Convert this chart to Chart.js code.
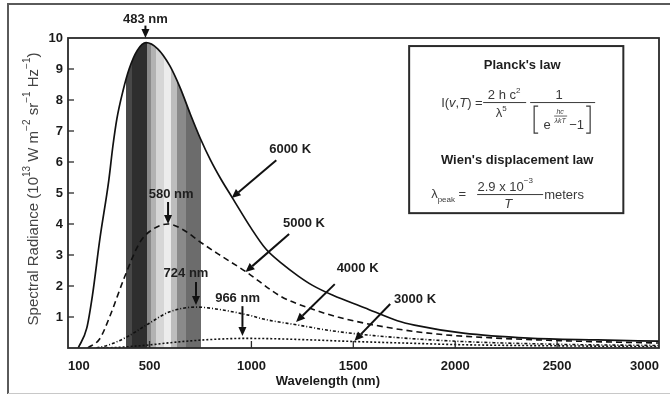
<!DOCTYPE html>
<html><head><meta charset="utf-8">
<script src="https://cdn.jsdelivr.net/npm/chart.js@4.4.1/dist/chart.umd.min.js"></script>
<style>html,body{margin:0;padding:0;background:#fff}#wrap{width:670px;height:395px;position:relative}</style>
</head><body><div id="wrap"><canvas id="c" width="670" height="395"></canvas></div>
<script>
// ---- data ----
const xTickValues = [100, 500, 1000, 1500, 2000, 2500, 3000];
const yTickValues = [1, 2, 3, 4, 5, 6, 7, 8, 9, 10];

const wl6000 = [150, 192, 220, 256, 300, 320, 340, 370, 400, 440, 483, 540, 600, 650, 700, 750, 800, 850, 905, 1000, 1070, 1150, 1230, 1300, 1400, 1555, 1716, 1800, 2040, 2360, 2700, 3000];
const rad6000 = [0, 0.64, 1.7, 3.5, 5.4, 6.5, 7.4, 8.3, 9.0, 9.6, 9.85, 9.65, 9.1, 8.4, 7.55, 6.75, 6.05, 5.45, 4.86, 3.85, 3.2, 2.72, 2.32, 2.02, 1.7, 1.3, 0.88, 0.74, 0.48, 0.32, 0.26, 0.22];

const wl5000 = [197, 256, 304, 377, 450, 499, 591, 669, 742, 840, 971, 1146, 1278, 1424, 1652, 1910, 2200, 2600, 3000];
const rad5000 = [0, 0.3, 1.0, 2.28, 3.38, 3.75, 4.0, 3.8, 3.45, 3.02, 2.47, 1.66, 1.3, 1.0, 0.68, 0.45, 0.32, 0.22, 0.16];

const wl4000 = [240, 300, 387, 499, 596, 728, 825, 986, 1068, 1229, 1390, 1600, 2000, 2500, 3000];
const rad4000 = [0, 0.1, 0.35, 0.8, 1.16, 1.32, 1.26, 1.06, 0.92, 0.74, 0.56, 0.4, 0.22, 0.12, 0.08];

const wl3000 = [270, 350, 430, 500, 600, 700, 850, 966, 1100, 1300, 1500, 1800, 2000, 2500, 3000];
const rad3000 = [0, 0.02, 0.06, 0.1, 0.17, 0.23, 0.29, 0.31, 0.3, 0.26, 0.21, 0.15, 0.11, 0.07, 0.045];

// visible spectrum band (stripe edges in nm) and its grey shades
const bandEdges = [387, 416, 489, 509, 533, 572, 606, 635, 679, 752];
const bandGrays = ['#484848', '#2e2e2e', '#8a8a8a', '#b2b2b2', '#d6d6d6', '#ececec', '#bdbdbd', '#8a8a8a', '#6c6c6c'];

// annotations: label text, label position (nm, radiance), arrow from -> to
const notes = [
  {t: '483 nm', at: [480, 10.61], from: [480, 10.40], to: [480, 10.0]},
  {t: '6000 K', at: [1190, 6.39], from: [1122, 6.06], to: [903, 4.84]},
  {t: '5000 K', at: [1258, 4.03], from: [1185, 3.68], to: [971, 2.45]},
  {t: '4000 K', at: [1521, 2.58], from: [1409, 2.06], to: [1219, 0.84]},
  {t: '3000 K', at: [1803, 1.58], from: [1681, 1.42], to: [1506, 0.23]},
  {t: '580 nm', at: [606, 4.97], from: [591, 4.71], to: [591, 4.0]},
  {t: '724 nm', at: [679, 2.39], from: [728, 2.13], to: [728, 1.39]},
  {t: '966 nm', at: [932, 1.61], from: [956, 1.35], to: [956, 0.39]}
];

const FF = '"Liberation Sans", Arial, Helvetica, sans-serif';

function pts(xs, ys) { return xs.map((x, i) => ({x: x, y: ys[i]})); }

function spectrumFill(c) {
  const ch = c.chart, a = ch.chartArea, xs = ch.scales.x;
  if (!a || !xs) return 'rgba(255,255,255,0)';
  const g = ch.ctx.createLinearGradient(a.left, 0, a.right, 0);
  const w = a.right - a.left;
  const p = nm => Math.min(1, Math.max(0, (xs.getPixelForValue(nm) - a.left) / w));
  const clear = 'rgba(255,255,255,0)';
  g.addColorStop(0, clear);
  g.addColorStop(p(bandEdges[0]), clear);
  for (let i = 0; i < bandGrays.length; i++) {
    g.addColorStop(p(bandEdges[i]), bandGrays[i]);
    g.addColorStop(p(bandEdges[i + 1]), bandGrays[i]);
  }
  g.addColorStop(p(bandEdges[bandEdges.length - 1]), clear);
  g.addColorStop(1, clear);
  return g;
}

function segs(ctx, x, y, list, align) {
  let w = 0;
  list.forEach(s => { ctx.font = s.f; s.w = ctx.measureText(s.t).width; w += s.w; });
  let cx = align === 'center' ? x - w / 2 : (align === 'right' ? x - w : x);
  ctx.textAlign = 'left'; ctx.textBaseline = 'alphabetic';
  list.forEach(s => { ctx.font = s.f; ctx.fillStyle = s.c || '#3a3a3a'; ctx.fillText(s.t, cx, y + (s.dy || 0)); cx += s.w; });
  return w;
}

function arrow(ctx, x1, y1, x2, y2) {
  const ang = Math.atan2(y2 - y1, x2 - x1), L = 9, H = 4;
  const bx = x2 - L * Math.cos(ang), by = y2 - L * Math.sin(ang);
  ctx.strokeStyle = '#111'; ctx.fillStyle = '#111'; ctx.lineWidth = 2;
  ctx.beginPath(); ctx.moveTo(x1, y1); ctx.lineTo(bx, by); ctx.stroke();
  ctx.beginPath();
  ctx.moveTo(x2, y2);
  ctx.lineTo(bx + H * Math.sin(ang), by - H * Math.cos(ang));
  ctx.lineTo(bx - H * Math.sin(ang), by + H * Math.cos(ang));
  ctx.closePath(); ctx.fill();
}

const decor = {
  id: 'decor',
  beforeDraw(chart) {
    const ctx = chart.ctx;
    ctx.save();
    ctx.fillStyle = '#fff'; ctx.fillRect(0, 0, 670, 395);
    ctx.strokeStyle = '#5a5a5a'; ctx.lineWidth = 2;
    ctx.beginPath(); ctx.moveTo(7, 4); ctx.lineTo(670, 4); ctx.stroke();
    ctx.beginPath(); ctx.moveTo(8, 3); ctx.lineTo(8, 394); ctx.stroke();
    ctx.strokeStyle = '#c8c8c8'; ctx.lineWidth = 1;
    ctx.beginPath(); ctx.moveTo(8, 393.5); ctx.lineTo(670, 393.5); ctx.stroke();
    ctx.restore();
  },
  afterDraw(chart) {
    const ctx = chart.ctx, a = chart.chartArea, xs = chart.scales.x, ys = chart.scales.y;
    const X = v => xs.getPixelForValue(v), Y = v => ys.getPixelForValue(v);
    ctx.save();
    // plot frame
    ctx.strokeStyle = '#2a2a2a'; ctx.lineWidth = 1.8;
    ctx.strokeRect(a.left, a.top, a.right - a.left, a.bottom - a.top);
    // inward ticks
    ctx.lineWidth = 1.3;
    yTickValues.forEach(v => { if (v < 10) { const y = Y(v); ctx.beginPath(); ctx.moveTo(a.left, y); ctx.lineTo(a.left + 6, y); ctx.stroke(); } });
    xTickValues.forEach(v => { if (v > 100 && v < 3000) { const x = X(v); ctx.beginPath(); ctx.moveTo(x, a.bottom); ctx.lineTo(x, a.bottom - 7); ctx.stroke(); } });

    // axis titles
    ctx.fillStyle = '#1a1a1a'; ctx.font = 'bold 13px ' + FF; ctx.textAlign = 'center'; ctx.textBaseline = 'middle';
    ctx.fillText('Wavelength (nm)', X(1375), 381);
    ctx.save();
    ctx.translate(33, 189);
    ctx.rotate(-Math.PI / 2);
    const n14 = '15px ' + FF, s9 = '10px ' + FF, col = '#444';
    segs(ctx, 0, 5, [
      {t: 'Spectral Radiance (10', f: n14, c: col},
      {t: '13', f: s9, dy: -8, c: col},
      {t: ' W m', f: n14, c: col},
      {t: '\u22122', f: s9, dy: -8, c: col},
      {t: ' sr', f: n14, c: col},
      {t: '\u22121', f: s9, dy: -8, c: col},
      {t: ' Hz', f: n14, c: col},
      {t: '\u22121', f: s9, dy: -8, c: col},
      {t: ')', f: n14, c: col}
    ], 'center');
    ctx.restore();

    // annotations
    notes.forEach(n => {
      ctx.font = 'bold 13px ' + FF; ctx.fillStyle = '#1e1e1e'; ctx.textAlign = 'center'; ctx.textBaseline = 'middle';
      ctx.fillText(n.t, X(n.at[0]), Y(n.at[1]));
      arrow(ctx, X(n.from[0]), Y(n.from[1]), X(n.to[0]), Y(n.to[1]));
    });

    // formula box
    const L = X(1774), T = Y(9.74), R = X(2825), B = Y(4.35);
    ctx.fillStyle = '#fff'; ctx.fillRect(L, T, R - L, B - T);
    ctx.strokeStyle = '#2a2a2a'; ctx.lineWidth = 2; ctx.strokeRect(L, T, R - L, B - T);
    const b13 = 'bold 13px ' + FF, n13 = '13px ' + FF,
          i13 = 'italic 13px ' + FF, s8 = '8px ' + FF, i7 = 'italic 7px ' + FF;
    segs(ctx, L + 113, T + 23, [{t: "Planck's law", f: b13, c: '#1e1e1e'}], 'center');
    segs(ctx, L + 32, T + 61, [
      {t: 'I(', f: n13}, {t: 'v', f: i13}, {t: ',', f: n13}, {t: 'T', f: i13}, {t: ') =', f: n13}
    ], 'left');
    segs(ctx, L + 95, T + 53, [{t: '2 h c', f: n13}, {t: '2', f: s8, dy: -6}], 'center');
    ctx.strokeStyle = '#3a3a3a'; ctx.lineWidth = 1;
    ctx.beginPath(); ctx.moveTo(L + 74, T + 56.5); ctx.lineTo(L + 117, T + 56.5); ctx.stroke();
    segs(ctx, L + 92, T + 71, [{t: '\u03bb', f: n13}, {t: '5', f: s8, dy: -6}], 'center');
    segs(ctx, L + 150, T + 53, [{t: '1', f: n13}], 'center');
    ctx.beginPath(); ctx.moveTo(L + 121, T + 56.5); ctx.lineTo(L + 186, T + 56.5); ctx.stroke();
    // brackets
    ctx.lineWidth = 1.2;
    ctx.beginPath(); ctx.moveTo(L + 129, T + 60); ctx.lineTo(L + 125, T + 60); ctx.lineTo(L + 125, T + 87); ctx.lineTo(L + 129, T + 87); ctx.stroke();
    ctx.beginPath(); ctx.moveTo(L + 177, T + 60); ctx.lineTo(L + 181, T + 60); ctx.lineTo(L + 181, T + 87); ctx.lineTo(L + 177, T + 87); ctx.stroke();
    segs(ctx, L + 138, T + 83, [{t: 'e', f: n13}], 'center');
    segs(ctx, L + 151, T + 68, [{t: 'hc', f: i7}], 'center');
    ctx.lineWidth = 0.8;
    ctx.beginPath(); ctx.moveTo(L + 145, T + 70); ctx.lineTo(L + 158, T + 70); ctx.stroke();
    segs(ctx, L + 151, T + 77, [{t: '\u03bbkT', f: i7}], 'center');
    segs(ctx, L + 160, T + 83, [{t: '\u22121', f: n13}], 'left');

    segs(ctx, L + 108, T + 118, [{t: "Wien's displacement law", f: b13, c: '#1e1e1e'}], 'center');
    segs(ctx, L + 22, T + 152, [{t: '\u03bb', f: n13}, {t: 'peak', f: s8, dy: 4}, {t: ' =', f: n13}], 'left');
    segs(ctx, L + 96, T + 145, [{t: '2.9 x 10', f: n13}, {t: '\u22123', f: s8, dy: -8}], 'center');
    ctx.lineWidth = 1;
    ctx.beginPath(); ctx.moveTo(L + 68, T + 148.5); ctx.lineTo(L + 134, T + 148.5); ctx.stroke();
    segs(ctx, L + 99, T + 162, [{t: 'T', f: i13}], 'center');
    segs(ctx, L + 135, T + 153, [{t: 'meters', f: n13}], 'left');
    ctx.restore();
  }
};

const tickFont = {family: FF, size: 13, weight: 'bold'};

new Chart(document.getElementById('c'), {
  type: 'line',
  data: {
    datasets: [
      {label: '6000 K', data: pts(wl6000, rad6000), borderColor: '#111', borderWidth: 1.7, fill: 'origin', backgroundColor: spectrumFill},
      {label: '5000 K', data: pts(wl5000, rad5000), borderColor: '#111', borderWidth: 1.6, borderDash: [6, 4], fill: false},
      {label: '4000 K', data: pts(wl4000, rad4000), borderColor: '#111', borderWidth: 1.6, borderDash: [3, 2, 1, 2], fill: false},
      {label: '3000 K', data: pts(wl3000, rad3000), borderColor: '#111', borderWidth: 1.6, borderDash: [2, 2], fill: false}
    ]
  },
  options: {
    responsive: false, animation: false, devicePixelRatio: 1,
    layout: {padding: {left: 0, right: 6, top: 38, bottom: 0}},
    elements: {point: {radius: 0}, line: {tension: 0.4, cubicInterpolationMode: 'monotone'}},
    plugins: {legend: {display: false}, tooltip: {enabled: false}, filler: {drawTime: 'beforeDatasetsDraw'}},
    scales: {
      x: {
        type: 'linear', min: 100, max: 3000,
        afterBuildTicks: s => { s.ticks = xTickValues.map(v => ({value: v})); },
        afterFit: s => { s.height = 47; },
        grid: {display: false, drawTicks: false}, border: {display: false},
        ticks: {padding: 11, align: 'inner', maxRotation: 0, autoSkip: false, font: tickFont, color: '#1a1a1a', callback: v => String(v)}
      },
      y: {
        type: 'linear', min: 0, max: 10,
        afterBuildTicks: s => { s.ticks = yTickValues.map(v => ({value: v})); },
        afterFit: s => { s.width = 68; },
        grid: {display: false, drawTicks: false}, border: {display: false},
        ticks: {padding: 5, font: tickFont, color: '#1a1a1a', callback: v => String(v)}
      }
    }
  },
  plugins: [decor]
});
</script>
</body></html>
